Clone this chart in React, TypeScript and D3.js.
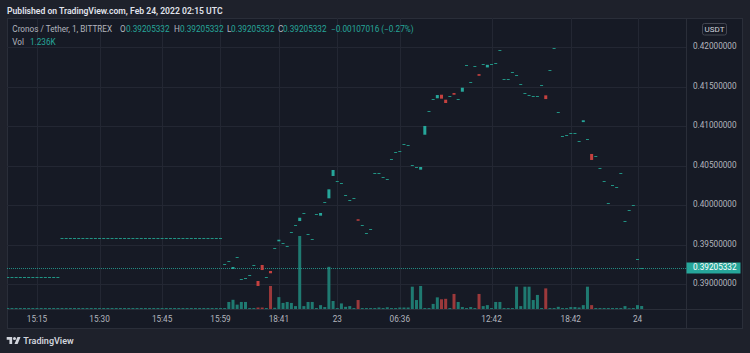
import React from "react";
import * as d3 from "d3";

// price axis ticks (USDT)
const PRICE_TICKS = [0.39, 0.395, 0.4, 0.405, 0.41, 0.415, 0.42];

// time axis labels and the bar index each one sits on
const TIME_LABELS = ["15:15", "15:30", "15:45", "15:59", "18:41", "23", "06:36", "12:42", "18:42", "24"];
const TIME_LABEL_BARS = [7, 22, 37, 51, 65, 79, 94, 116, 135, 151];

// close of every 1-minute bar, left to right
const CLOSE = [
  0.39093, 0.39093, 0.39093, 0.39093, 0.39093, 0.39093, 0.39093, 0.39093, 0.39093, 0.39093,
  0.39093, 0.39093, 0.39093,
  0.39579, 0.39579, 0.39579, 0.39579, 0.39579, 0.39579, 0.39579, 0.39579, 0.39579, 0.39579,
  0.39579, 0.39579, 0.39579, 0.39579, 0.39579, 0.39579, 0.39579, 0.39579, 0.39579, 0.39579,
  0.39579, 0.39579, 0.39579, 0.39579, 0.39579, 0.39579, 0.39579, 0.39579, 0.39579, 0.39579,
  0.39579, 0.39579, 0.39579, 0.39579, 0.39579, 0.39579, 0.39579, 0.39579, 0.39579,
  0.3925, 0.39295, 0.39215, 0.39338, 0.3906, 0.39072, 0.3911, 0.39237, 0.38975, 0.39177,
  0.39085, 0.39136, 0.3946, 0.39561, 0.39516, 0.39478, 0.39663, 0.39748, 0.3984, 0.399,
  0.3963, 0.39574, 0.39883, 0.399, 0.40035, 0.402, 0.40445, 0.40302, 0.40276, 0.40124,
  0.40061, 0.40094, 0.39802, 0.39744, 0.39643, 0.39693, 0.40411, 0.40411, 0.4036, 0.40327,
  0.4058, 0.40673, 0.40682, 0.40778, 0.40758, 0.40504, 0.40487, 0.40483, 0.41003, 0.41193,
  0.41345, 0.41395, 0.41349, 0.41294, 0.41379, 0.41399, 0.41341, 0.41488, 0.41772, 0.4156,
  0.41762, 0.41639, 0.41787, 0.41778, 0.41783, 0.41796, 0.41962, 0.41594, 0.41594, 0.4169,
  0.41644, 0.4153, 0.41416, 0.41391, 0.41379, 0.41382, 0.41518, 0.41344, 0.41708, 0.41991,
  0.41184, 0.40871, 0.40884, 0.40909, 0.40909, 0.40812, 0.41075, 0.40833, 0.40572, 0.40618,
  0.40466, 0.40302, 0.40023, 0.40251, 0.40233, 0.40411, 0.39802, 0.39934, 0.39997, 0.39313,
  0.39205332,
];

// bars whose open differs from the close: [bar index, open]
const OPENS: [number, number][] = [
  [54, 0.3919], [60, 0.39038], [61, 0.39241], [63, 0.39165], [65, 0.39541], [70, 0.39798],
  [75, 0.39866], [77, 0.40086], [78, 0.40369], [84, 0.3982], [99, 0.40449], [100, 0.40892],
  [103, 0.41354], [104, 0.41399], [105, 0.41336], [107, 0.4142], [109, 0.41437], [113, 0.4166],
  [115, 0.41745], [129, 0.41391], [138, 0.41052], [140, 0.40648],
];

// volume per bar, thousands
const VOLUME = [
  0.4, 0.4, 0.4, 0.4, 0.4, 0.4, 0.4, 0.4, 0.4, 0.4, 0.4, 0.4, 0.4,
  0.4, 0.4, 0.4, 0.4, 0.4, 0.4, 0.4, 0.4, 0.4, 0.4, 0.4, 0.4, 0.4,
  0.4, 0.4, 0.4, 0.4, 0.4, 0.4, 0.4, 0.4, 0.4, 0.4, 0.4, 0.4, 0.4,
  0.4, 0.4, 0.4, 0.4, 0.4, 0.4, 0.4, 0.4, 0.4, 0.4, 0.4, 0.4, 0.4,
  0.4, 2.9, 3.8, 1.8, 2.9, 2.9, 0.4, 0.4, 0.6, 0.6,
  0.4, 9.5, 0.5, 4.9, 2.5, 2.9, 2.5, 1.2, 30.1, 1.2,
  2.9, 2.9, 0.4, 1.6, 0.8, 17.4, 3.3, 0.4, 2.3, 0.9,
  1.2, 0.4, 3.7, 0.4, 0.4, 0.4, 0.4, 0.6, 0.4, 0.7,
  0.4, 0.4, 0.6, 0.6, 0.6, 9.2, 3.7, 9.5, 0.4, 0.4,
  2.1, 4.8, 4.0, 4.2, 0.4, 6.2, 2.9, 0.8, 0.4, 0.8,
  0.4, 6.2, 1.2, 1.6, 0.4, 2.9, 2.9, 0.4, 0.4, 0.4,
  9.2, 1.2, 9.2, 9.2, 3.7, 5.8, 0.4, 8.5, 0.4, 0.4,
  0.9, 0.4, 0.4, 0.8, 0.8, 0.6, 1.6, 9.2, 1.6, 0.4,
  0.4, 0.4, 0.4, 0.4, 0.4, 0.4, 1.2, 0.3, 0.4, 1.6,
  1.236,
];

const W = 750;
const H = 353;
const pane = { left: 7, right: 686, top: 18, bottom: 309 };
const frameRight = 743;
const frameBottom = 329;

const UP = "#26a69a";
const DOWN = "#c5413f";
const FONT = "Roboto, 'Noto Sans', sans-serif";

export default function App() {
  const openMap = new Map(OPENS);
  const bars = CLOSE.map((c, i) => {
    const o = openMap.has(i) ? (openMap.get(i) as number) : c;
    return { i, o, c, v: VOLUME[i], up: c >= o, doji: !openMap.has(i) };
  });

  const x = d3.scaleLinear().domain([0, 151]).range([7.8, 637.5]);
  const y = d3.scaleLinear().domain([0.39, 0.42]).range([284, 47.3]);
  const vy = d3.scaleLinear().domain([0, 30.1]).range([pane.bottom, 236]);
  const bw = 3;
  const last = CLOSE[CLOSE.length - 1];
  const lastY = Math.round(y(last)) + 0.5;

  return (
    <svg
      width={W}
      height={H}
      style={{ position: "absolute", left: 0, top: 0, display: "block" }}
      fontFamily={FONT}
    >
      <defs>
        <clipPath id="pane-clip">
          <rect x={pane.left} y={pane.top} width={pane.right - pane.left} height={pane.bottom - pane.top} />
        </clipPath>
      </defs>
      <rect width={W} height={H} fill="#1e212b" />
      <text x={7} y={14} fill="#e0e3eb" fontSize={8.6} fontWeight={600}>
        Published on TradingView.com, Feb 24, 2022 02:15 UTC
      </text>

      {/* chart frame */}
      <rect
        x={pane.left + 0.5}
        y={pane.top + 0.5}
        width={frameRight - pane.left - 1}
        height={frameBottom - pane.top - 1}
        fill="#161a25"
        stroke="#2a2e39"
      />

      {/* grid */}
      {TIME_LABEL_BARS.map((b, k) => (
        <line
          key={"vg" + k}
          x1={Math.round(x(b)) + 0.5}
          x2={Math.round(x(b)) + 0.5}
          y1={pane.top}
          y2={pane.bottom}
          stroke="#232733"
        />
      ))}
      {PRICE_TICKS.map((t) => (
        <line
          key={"hg" + t}
          x1={pane.left}
          x2={pane.right}
          y1={Math.round(y(t)) + 0.5}
          y2={Math.round(y(t)) + 0.5}
          stroke="#232733"
        />
      ))}

      <g clipPath="url(#pane-clip)">
        {/* volume */}
        {bars.map((d) => (
          <rect
            key={"v" + d.i}
            x={x(d.i) - bw / 2}
            y={vy(d.v)}
            width={bw}
            height={pane.bottom - vy(d.v)}
            fill={d.up ? "#1f7a71" : "#9c393b"}
          />
        ))}
        {/* last price line */}
        <line
          x1={pane.left}
          x2={pane.right}
          y1={lastY}
          y2={lastY}
          stroke={UP}
          strokeDasharray="1,1"
          opacity={0.8}
        />
        {/* candles */}
        {bars.map((d) => {
          const top = y(Math.max(d.o, d.c));
          const bot = y(Math.min(d.o, d.c));
          const h = Math.max(1, bot - top);
          return (
            <rect
              key={"c" + d.i}
              x={x(d.i) - bw / 2}
              y={d.doji ? Math.round(top) : top}
              width={bw}
              height={h}
              fill={d.up ? (d.doji ? "#219384" : UP) : DOWN}
            />
          );
        })}
      </g>

      {/* legend */}
      <g fontSize={8.2} dominantBaseline="middle">
        <text x={12.3} y={29.5} fill="#b2b5be">Cronos / Tether, 1, BITTREX</text>
        <text x={120} y={29.5} fill="#b2b5be">O</text>
        <text x={126} y={29.5} fill={UP}>0.39205332</text>
        <text x={174} y={29.5} fill="#b2b5be">H</text>
        <text x={180} y={29.5} fill={UP}>0.39205332</text>
        <text x={227} y={29.5} fill="#b2b5be">L</text>
        <text x={231} y={29.5} fill={UP}>0.39205332</text>
        <text x={278} y={29.5} fill="#b2b5be">C</text>
        <text x={283} y={29.5} fill={UP}>0.39205332</text>
        <text x={331} y={29.5} fill={UP}>−0.00107016 (−0.27%)</text>
        <text x={12.3} y={42.5} fill="#b2b5be">Vol</text>
        <text x={30} y={42.5} fill={UP}>1.236K</text>
      </g>

      {/* axes separators */}
      <line x1={pane.right + 0.5} x2={pane.right + 0.5} y1={pane.top} y2={frameBottom} stroke="#2a2e39" />
      <line x1={pane.left} x2={frameRight} y1={pane.bottom + 0.5} y2={pane.bottom + 0.5} stroke="#2a2e39" />

      {/* price axis */}
      <g fontSize={8.2} fill="#b2b5be" dominantBaseline="middle">
        {PRICE_TICKS.map((t) => (
          <text key={"pt" + t} x={693} y={y(t)}>
            {t.toFixed(8)}
          </text>
        ))}
      </g>
      <rect x={702.5} y={23.5} width={24} height={11.5} rx={2} fill="#161a25" stroke="#434651" />
      <text x={714.5} y={29.5} fontSize={8} fill="#d1d4dc" textAnchor="middle" dominantBaseline="middle">
        USDT
      </text>
      <rect x={pane.right + 0.5} y={y(last) - 5.3} width={54} height={11} fill={UP} />
      <text x={693} y={y(last) + 0.3} fontSize={8.2} fill="#ffffff" dominantBaseline="middle">
        {last.toFixed(8)}
      </text>

      {/* time axis */}
      <g fontSize={8.2} fill="#b2b5be" textAnchor="middle">
        {TIME_LABELS.map((t, k) => (
          <text key={"tl" + t} x={x(TIME_LABEL_BARS[k])} y={322}>
            {t}
          </text>
        ))}
      </g>

      {/* footer logo */}
      <g transform="translate(6.7,335.4) scale(0.39)" fill="#d1d4dc">
        <path d="M14 22H7V11H0V4h14v18zM28 22h-8l7.5-18h8L28 22z" />
        <circle cx={20} cy={8} r={4} />
      </g>
      <text x={23.3} y={344} fontSize={9} fontWeight={600} fill="#d1d4dc">
        TradingView
      </text>
    </svg>
  );
}
